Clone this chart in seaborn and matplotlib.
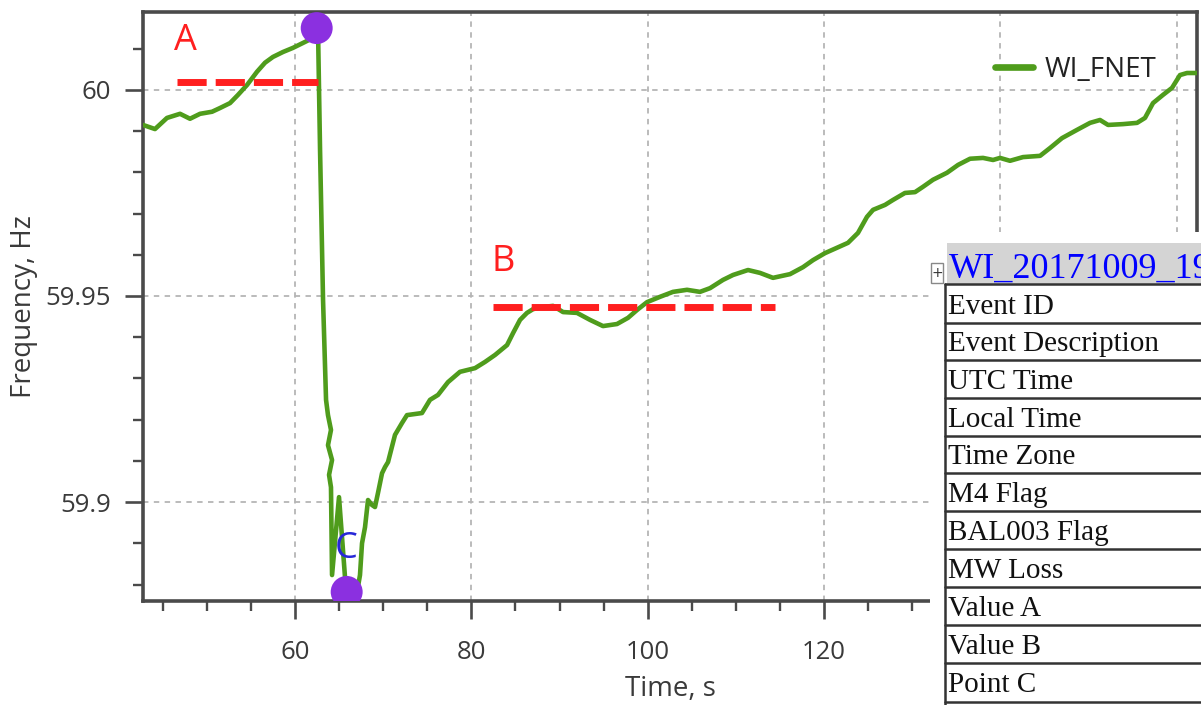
import numpy as np
import pandas as pd
import matplotlib
matplotlib.use("Agg")
import matplotlib.pyplot as plt
import seaborn as sns
from matplotlib.patches import Rectangle
from matplotlib.ticker import MultipleLocator, FuncFormatter

##### DATA
time_s = [42.76, 44.12, 45.48, 46.96, 48.09, 49.23, 50.59, 51.49, 52.63, 53.54,
          54.56, 55.69, 56.60, 57.50, 58.64, 59.77, 60.91, 62.04, 62.61,
          62.84, 63.18, 63.52, 63.74, 64.08, 63.74, 64.20, 63.86, 64.08,
          64.20, 64.99, 65.67, 66.12, 66.92, 67.37, 67.60, 67.94, 68.28, 68.73,
          69.07, 69.41, 69.87, 70.21, 70.55, 71.34, 72.14, 72.70, 74.40, 75.31,
          76.22, 77.35, 78.71, 80.42, 81.55, 82.69, 84.05, 84.73, 85.52, 86.31,
          86.99, 88.01, 89.26, 90.40, 91.98, 93.46, 94.93, 96.52, 97.77, 98.79,
          99.92, 101.40, 102.87, 104.46, 105.93, 107.07, 108.54, 109.68, 111.38,
          112.74, 114.21, 116.14, 117.62, 118.75, 120.11, 121.47, 122.72, 123.85,
          124.87, 125.56, 126.92, 127.82, 129.18, 130.32, 131.23, 132.36, 133.95,
          135.20, 136.56, 138.03, 139.17, 139.96, 141.09, 142.57, 144.50, 145.63,
          146.99, 148.69, 150.17, 151.30, 152.21, 153.91, 155.50, 156.40, 157.31,
          158.45, 159.47, 160.37, 161.17, 162.30]
freq_hz = [59.9915, 59.9905, 59.9932, 59.9942, 59.9930, 59.9942, 59.9947, 59.9956, 59.9968, 59.9988,
           60.0012, 60.0044, 60.0066, 60.0080, 60.0092, 60.0102, 60.0114, 60.0126, 60.0146,
           59.9854, 59.9490, 59.9248, 59.9211, 59.9175, 59.9138, 59.9102, 59.9066, 59.9036,
           59.8823, 59.9012, 59.8818, 59.8769, 59.8767, 59.8823, 59.8900, 59.8939, 59.9005, 59.8993,
           59.8988, 59.9022, 59.9070, 59.9085, 59.9097, 59.9163, 59.9192, 59.9211, 59.9216, 59.9248,
           59.9260, 59.9291, 59.9316, 59.9325, 59.9340, 59.9357, 59.9381, 59.9410, 59.9442, 59.9459,
           59.9468, 59.9473, 59.9476, 59.9461, 59.9459, 59.9442, 59.9427, 59.9432, 59.9447, 59.9466,
           59.9485, 59.9498, 59.9510, 59.9515, 59.9510, 59.9519, 59.9539, 59.9551, 59.9563,
           59.9556, 59.9544, 59.9553, 59.9570, 59.9587, 59.9604, 59.9617, 59.9629, 59.9653,
           59.9692, 59.9709, 59.9721, 59.9733, 59.9750, 59.9752, 59.9765, 59.9782, 59.9799,
           59.9818, 59.9833, 59.9835, 59.9830, 59.9835, 59.9828, 59.9837, 59.9840, 59.9859,
           59.9883, 59.9903, 59.9920, 59.9927, 59.9915, 59.9917, 59.9920, 59.9932, 59.9968,
           59.9988, 60.0005, 60.0036, 60.0041, 60.0041]
series_name = "WI_FNET"

# value A / value B reference lines
a_time = [46.62, 62.61]
a_freq = 60.0019
b_time = [82.46, 114.44]
b_freq = 59.9474

# highlighted points (pre-event peak and point C)
point_time = [62.46, 65.86]
point_freq = [60.0150, 59.8782]

# annotation letters
letter_text = ["A", "B", "C"]
letter_time = [47.52, 83.59, 65.84]
letter_freq = [60.0119, 59.9583, 59.8886]

# event table overlay
table_title = "WI_20171009_19"
table_rows = ["Event ID", "Event Description", "UTC Time", "Local Time", "Time Zone",
              "M4 Flag", "BAL003 Flag", "MW Loss", "Value A", "Value B", "Point C"]

green = "#4f9c1c"
red = "#ff1f1f"
purple = "#8b30e0"
txt = "#3a3a3a"

##### PLOT
sns.set_style("ticks")
plt.rcParams['font.family'] = ['Open Sans', 'DejaVu Sans']

fig = plt.figure(figsize=(12.01, 7.05), dpi=100)
ax = fig.add_axes([143/1201, 104/705, 1054/1201, 589/705])

df = pd.DataFrame({"Time": time_s, "Freq": freq_hz})
sns.lineplot(data=df, x="Time", y="Freq", sort=False, estimator=None,
             color=green, lw=3.3, label=series_name, ax=ax, zorder=3)

ax.plot(a_time, [a_freq, a_freq], color=red, lw=5, dashes=(4.2, 1.3),
        dash_capstyle="butt", zorder=4)
ax.plot(b_time, [b_freq, b_freq], color=red, lw=5, dashes=(4.2, 1.3),
        dash_capstyle="butt", zorder=4)

ax.scatter(point_time, point_freq, s=23**2, color=purple, edgecolor="none", zorder=5)

letter_colors = [red, red, "#2828d8"]
for t, x, y, c in zip(letter_text, letter_time, letter_freq, letter_colors):
    ax.text(x, y, t, color=c, fontsize=26, ha="center", va="center", zorder=6)

ax.set_xlim(42.76, 162.3)
ax.set_ylim(59.876, 60.0189)
ax.xaxis.set_major_locator(MultipleLocator(20))
ax.xaxis.set_minor_locator(MultipleLocator(5))
ax.yaxis.set_major_locator(MultipleLocator(0.05))
ax.yaxis.set_minor_locator(MultipleLocator(0.01))
# labels for 140 and 160 sit under the pasted table, so leave them blank
ax.xaxis.set_major_formatter(FuncFormatter(lambda v, p: "%g" % v if v < 130 else ""))
ax.yaxis.set_major_formatter(FuncFormatter(lambda v, p: "%g" % round(v, 3)))

ax.tick_params(which="major", direction="out", length=13, width=1.9, color="#4a4a4a",
               labelsize=18.5, labelcolor=txt)
ax.tick_params(axis="x", which="major", pad=15)
ax.tick_params(axis="y", which="major", pad=10)
ax.tick_params(which="minor", direction="out", length=7, width=1.7, color="#4a4a4a")
for s in ax.spines.values():
    s.set_color("#4a4a4a")
    s.set_linewidth(2.6)

ax.set_axisbelow(True)
ax.grid(which="major", color="#b5b5b5", linestyle=(0, (3, 3)), lw=1.3)

ax.set_xlabel("Time, s", fontsize=20, color=txt)
ax.xaxis.set_label_coords(0.5, -0.125)
ax.set_ylabel("Frequency, Hz", fontsize=20, color=txt)
ax.yaxis.set_label_coords(-0.10, 0.5)

leg = ax.legend(loc="center left", bbox_to_anchor=(995/1201, 1 - 70/705),
                bbox_transform=fig.transFigure, frameon=False, fontsize=20,
                handlelength=1.37, handletextpad=0.43, borderpad=0, borderaxespad=0)
leg.get_lines()[0].set_linewidth(4.8)
for t in leg.get_texts():
    t.set_color("#222222")

# table pasted over the right side (pixel coords, y downwards)
tab = fig.add_axes([930/1201, 0, 271/1201, (705-232)/705])
tab.set_xlim(930, 1201)
tab.set_ylim(705, 232)
tab.set_axis_off()
tab.add_patch(Rectangle((930, 232), 271, 473, facecolor="white", edgecolor="none"))
tab.add_patch(Rectangle((947, 243), 254, 41, facecolor="#d4d4d4", edgecolor="none"))
tab.add_patch(Rectangle((931, 263), 12, 20, facecolor="white", edgecolor="#888888", lw=1))
tab.text(937, 273, "+", fontsize=10, ha="center", va="center", color="#333333",
         family="DejaVu Sans")
tab.text(949, 278, table_title, fontsize=26, family="Liberation Serif",
         color="#0000ff", va="baseline")

row_edges = [284, 322.5, 360, 398, 436, 473, 511, 548.5, 586.5, 625, 663, 701.5]
for y in row_edges:
    tab.plot([945, 1201], [y, y], color="#333333", lw=1.8)
tab.plot([945, 945], [284, 705], color="#333333", lw=1.8)
for name, yb in zip(table_rows, row_edges[1:]):
    tab.text(948, yb - 9, name, fontsize=21, family="Liberation Serif",
             color="#111111", va="baseline")

plt.savefig("out.png", dpi=100)
